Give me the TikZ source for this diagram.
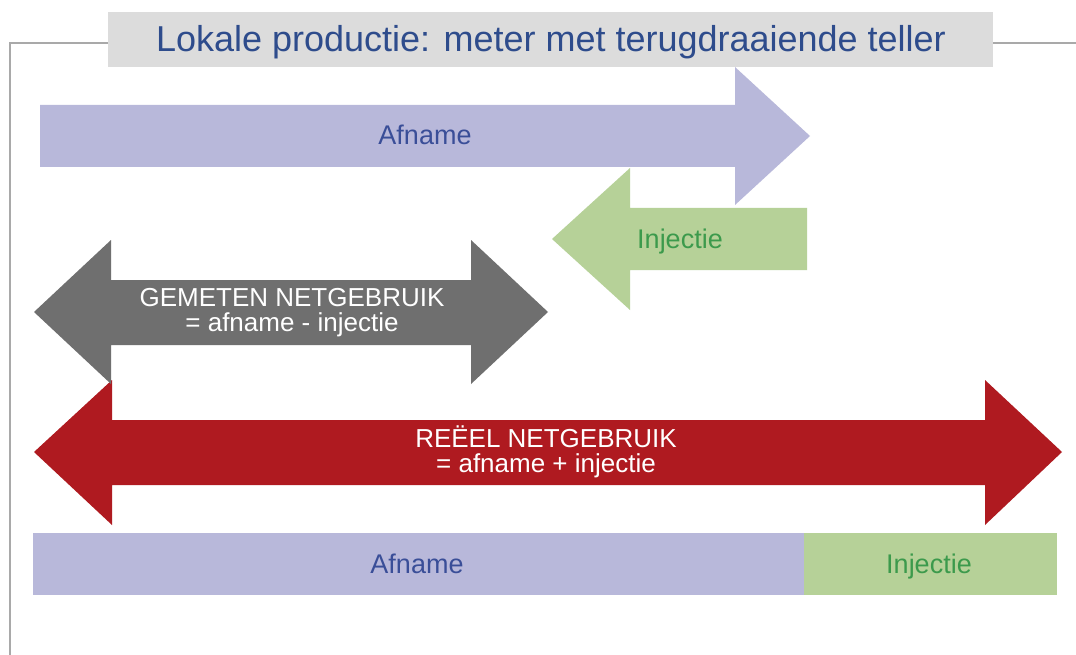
\documentclass[tikz,border=0pt]{standalone}
\usepackage{fontspec}
\setmainfont{Liberation Sans}
\definecolor{lav}{HTML}{B8B8DA}
\definecolor{grn}{HTML}{B6D198}
\definecolor{dgray}{HTML}{6F6F6F}
\definecolor{dred}{HTML}{AF1A20}
\definecolor{titlebg}{HTML}{DCDCDC}
\definecolor{framec}{HTML}{A9A9A9}
\definecolor{titleblue}{HTML}{2E4C8C}
\definecolor{lblblue}{HTML}{3A4E98}
\definecolor{lblgreen}{HTML}{3C9A4C}
\tikzset{
  framestyle/.style={draw=framec, line width=1.6pt},
  lbl/.style={inner sep=0pt, anchor=base, font=\fontsize{27}{30}\selectfont},
  biglbl/.style={inner sep=0pt, align=center, text=white, font=\fontsize{26}{25}\selectfont},
}
\begin{document}
\begin{tikzpicture}[x=1pt,y=-1pt]
\useasboundingbox (0,0) rectangle (1076,655);
\fill[white] (0,0) rectangle (1076,655);
% frame
\coordinate (fb) at (10,655);
\coordinate (ft) at (10,43);
\coordinate (fl) at (108,43);
\coordinate (fr) at (993,43);
\coordinate (fe) at (1076,43);
\draw[framestyle] (fb) -- (ft) -- (fl);
\draw[framestyle] (fr) -- (fe);
% title
\fill[titlebg] (108,12) rectangle (993,67);
\node[inner sep=0pt, anchor=base, text=titleblue, font=\fontsize{36}{40}\selectfont] (title) at (551,51.5) {Lokale productie: meter met terugdraaiende teller};
% afname arrow
\fill[lav] (40,105) -- (735,105) -- (735,67) -- (810,136) -- (735,205) -- (735,167) -- (40,167) -- cycle;
\node[lbl, text=lblblue] (afn1) at (425,145) {Afname};
% injectie arrow
\fill[grn] (807,208) -- (630,208) -- (630,168) -- (552,239) -- (630,310) -- (630,270) -- (807,270) -- cycle;
\node[lbl, text=lblgreen] (inj1) at (680,248) {Injectie};
% red arrow
\fill[dred] (112,420) -- (985,420) -- (985,380) -- (1062,452) -- (985,525) -- (985,485) -- (112,485) -- (112,525) -- (34,452) -- (112,380) -- cycle;
\node[biglbl] (reel) at (546,452) {REËEL NETGEBRUIK\\= afname + injectie};
% gray arrow
\fill[dgray] (111,280) -- (471,280) -- (471,240) -- (548,312) -- (471,384) -- (471,345) -- (111,345) -- (111,384) -- (34,312) -- (111,240) -- cycle;
\node[biglbl] (gem) at (292,313) {GEMETEN NETGEBRUIK\\= afname - injectie};
% bottom bar
\fill[lav] (33,533) rectangle (804,595);
\fill[grn] (804,533) rectangle (1057,595);
\node[lbl, text=lblblue] (afn2) at (417,573) {Afname};
\node[lbl, text=lblgreen] (inj2) at (929,573) {Injectie};
\end{tikzpicture}
\end{document}
